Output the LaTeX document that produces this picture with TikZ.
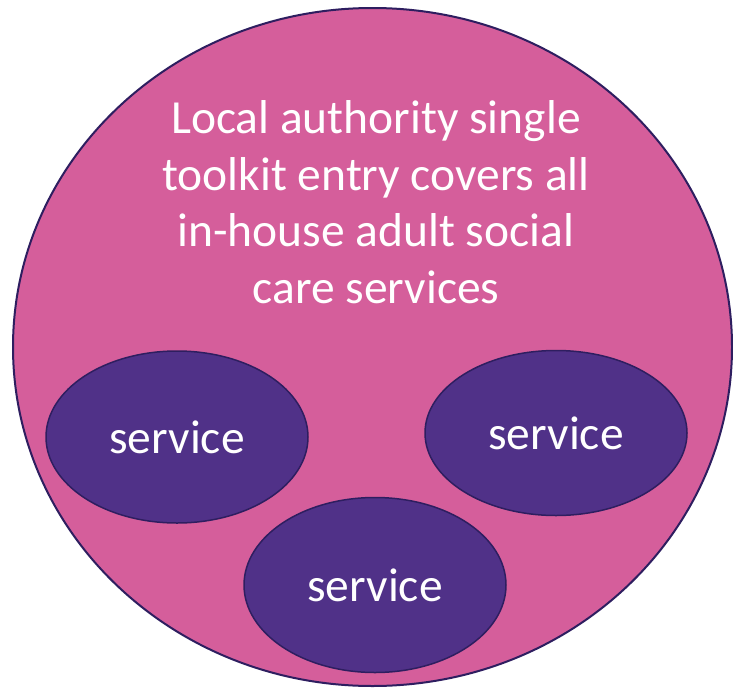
\documentclass[tikz,border=0pt]{standalone}
\usepackage{fontspec}
\setmainfont{Carlito}
\usepackage{tikz}
\usetikzlibrary{shapes.geometric}
\definecolor{lapink}{RGB}{213,94,155}
\definecolor{svcpurple}{RGB}{80,49,136}
\definecolor{edgenavy}{RGB}{46,30,96}
\tikzset{%
  bignode/.style={ellipse, draw=edgenavy, line width=2pt, fill=lapink, inner sep=0pt},
  svcnode/.style={ellipse, draw=edgenavy, line width=1.5pt, fill=svcpurple, inner sep=0pt,
    minimum width=262pt, text=white, font=\fontsize{47.5}{56.5}\selectfont},
  labnode/.style={align=center, text=white, inner sep=0pt, font=\fontsize{47.5}{56.5}\selectfont}
}

\begin{document}
\begin{tikzpicture}[x=1pt,y=-1pt]
  \useasboundingbox[fill=white] (0,0) rectangle (733,688);
  \node[bignode, minimum width=719pt, minimum height=678pt] (la) at (372.5,347) {};
  \node[labnode] (latext) at (376,202) {Local authority single\\toolkit entry covers all\\in-house adult social\\care services};

  \node[svcnode, minimum height=172pt] (s1) at (177,437) {service};
  \node[svcnode, minimum height=165pt] (s2) at (556,433) {service};
  \node[svcnode, minimum height=175pt] (s3) at (375,585) {service};
\end{tikzpicture}
\end{document}
